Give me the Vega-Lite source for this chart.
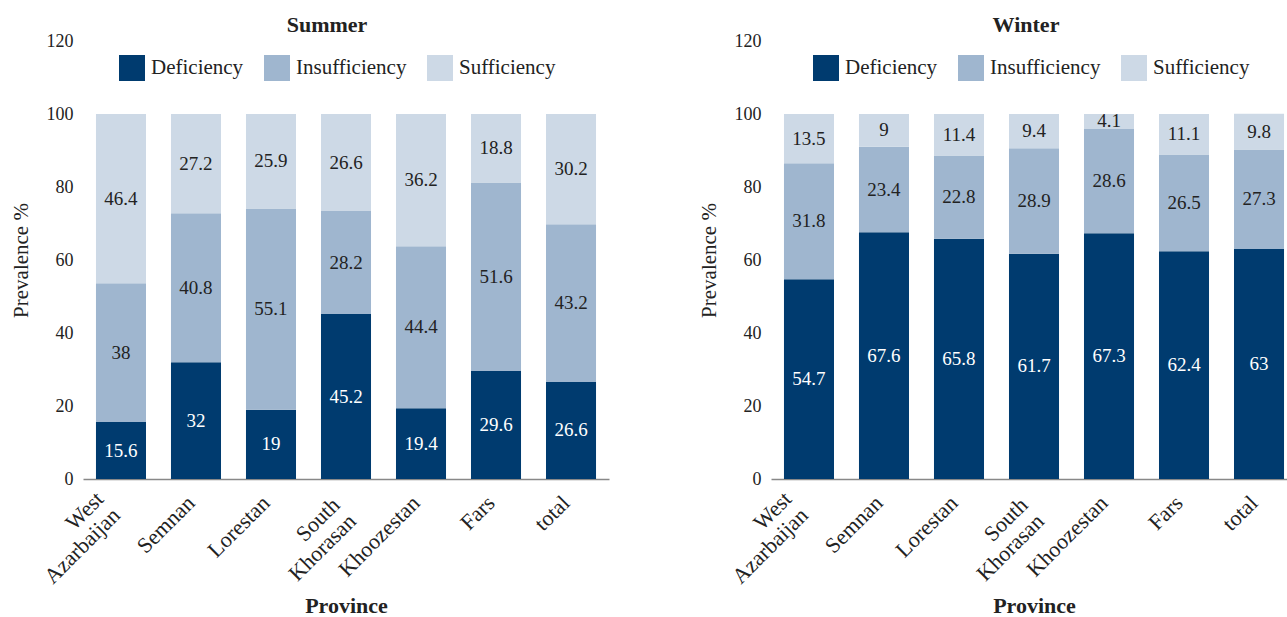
{
  "$schema": "https://vega.github.io/schema/vega-lite/v6.json",
  "padding": {"left": 10, "top": 14, "right": 0, "bottom": 0},
  "config": {"font": "Liberation Serif", "view": {"stroke": null}, "concat": {"spacing": 89}},
  "data": {"values": [
    {"season": "Summer", "province": "West Azarbaijan", "level": "Deficiency", "value": 15.6},
    {"season": "Summer", "province": "West Azarbaijan", "level": "Insufficiency", "value": 38},
    {"season": "Summer", "province": "West Azarbaijan", "level": "Sufficiency", "value": 46.4},
    {"season": "Summer", "province": "Semnan", "level": "Deficiency", "value": 32},
    {"season": "Summer", "province": "Semnan", "level": "Insufficiency", "value": 40.8},
    {"season": "Summer", "province": "Semnan", "level": "Sufficiency", "value": 27.2},
    {"season": "Summer", "province": "Lorestan", "level": "Deficiency", "value": 19},
    {"season": "Summer", "province": "Lorestan", "level": "Insufficiency", "value": 55.1},
    {"season": "Summer", "province": "Lorestan", "level": "Sufficiency", "value": 25.9},
    {"season": "Summer", "province": "South Khorasan", "level": "Deficiency", "value": 45.2},
    {"season": "Summer", "province": "South Khorasan", "level": "Insufficiency", "value": 28.2},
    {"season": "Summer", "province": "South Khorasan", "level": "Sufficiency", "value": 26.6},
    {"season": "Summer", "province": "Khoozestan", "level": "Deficiency", "value": 19.4},
    {"season": "Summer", "province": "Khoozestan", "level": "Insufficiency", "value": 44.4},
    {"season": "Summer", "province": "Khoozestan", "level": "Sufficiency", "value": 36.2},
    {"season": "Summer", "province": "Fars", "level": "Deficiency", "value": 29.6},
    {"season": "Summer", "province": "Fars", "level": "Insufficiency", "value": 51.6},
    {"season": "Summer", "province": "Fars", "level": "Sufficiency", "value": 18.8},
    {"season": "Summer", "province": "total", "level": "Deficiency", "value": 26.6},
    {"season": "Summer", "province": "total", "level": "Insufficiency", "value": 43.2},
    {"season": "Summer", "province": "total", "level": "Sufficiency", "value": 30.2},
    {"season": "Winter", "province": "West Azarbaijan", "level": "Deficiency", "value": 54.7},
    {"season": "Winter", "province": "West Azarbaijan", "level": "Insufficiency", "value": 31.8},
    {"season": "Winter", "province": "West Azarbaijan", "level": "Sufficiency", "value": 13.5},
    {"season": "Winter", "province": "Semnan", "level": "Deficiency", "value": 67.6},
    {"season": "Winter", "province": "Semnan", "level": "Insufficiency", "value": 23.4},
    {"season": "Winter", "province": "Semnan", "level": "Sufficiency", "value": 9},
    {"season": "Winter", "province": "Lorestan", "level": "Deficiency", "value": 65.8},
    {"season": "Winter", "province": "Lorestan", "level": "Insufficiency", "value": 22.8},
    {"season": "Winter", "province": "Lorestan", "level": "Sufficiency", "value": 11.4},
    {"season": "Winter", "province": "South Khorasan", "level": "Deficiency", "value": 61.7},
    {"season": "Winter", "province": "South Khorasan", "level": "Insufficiency", "value": 28.9},
    {"season": "Winter", "province": "South Khorasan", "level": "Sufficiency", "value": 9.4},
    {"season": "Winter", "province": "Khoozestan", "level": "Deficiency", "value": 67.3},
    {"season": "Winter", "province": "Khoozestan", "level": "Insufficiency", "value": 28.6},
    {"season": "Winter", "province": "Khoozestan", "level": "Sufficiency", "value": 4.1},
    {"season": "Winter", "province": "Fars", "level": "Deficiency", "value": 62.4},
    {"season": "Winter", "province": "Fars", "level": "Insufficiency", "value": 26.5},
    {"season": "Winter", "province": "Fars", "level": "Sufficiency", "value": 11.1},
    {"season": "Winter", "province": "total", "level": "Deficiency", "value": 63},
    {"season": "Winter", "province": "total", "level": "Insufficiency", "value": 27.3},
    {"season": "Winter", "province": "total", "level": "Sufficiency", "value": 9.8}
  ]},
  "resolve": {"legend": {"color": "independent"}},
  "hconcat": [
    {
      "title": {"text": "Summer", "fontSize": 22, "fontWeight": "bold", "color": "#222", "dx": -19, "offset": -5},
      "width": 526, "height": 438,
      "transform": [
        {"filter": "datum.season === 'Summer'"},
        {"stack": "value", "groupby": ["province"], "sort": [{"field": "level", "order": "ascending"}], "as": ["v0", "v1"]},
        {"calculate": "(datum.v0 + datum.v1) / 2", "as": "mid"}
      ],
      "encoding": {
        "x": {"field": "province", "type": "nominal",
          "sort": ["West Azarbaijan", "Semnan", "Lorestan", "South Khorasan", "Khoozestan", "Fars", "total"],
          "scale": {"paddingInner": 0.333, "paddingOuter": 0.173},
          "axis": {"title": "Province", "titleFontSize": 22, "titleFontWeight": "bold", "titleColor": "#222", "titlePadding": 8,
            "labelAngle": -45, "labelAlign": "right", "labelBaseline": "middle", "labelFontSize": 22, "labelColor": "#222",
            "labelExpr": "split(datum.label, ' ')", "labelLineHeight": 23,
            "labelPadding": {"condition": [{"test": "datum.value === 'West Azarbaijan'", "value": 16}, {"test": "datum.value === 'South Khorasan'", "value": 22}], "value": 20},
            "labelOffset": {"condition": [{"test": "datum.value === 'West Azarbaijan'", "value": -21}, {"test": "datum.value === 'South Khorasan'", "value": -10}], "value": -5},
            "ticks": false, "domainColor": "#888", "domainWidth": 1.5, "grid": false}}
      },
      "layer": [
        {"mark": {"type": "bar"},
          "encoding": {
            "y": {"field": "v0", "type": "quantitative", "scale": {"domain": [0, 120]},
              "axis": {"values": [0, 20, 40, 60, 80, 100, 120], "title": "Prevalence %", "titleFontSize": 21, "titleFontWeight": "normal", "titleColor": "#222",
                "labelFontSize": 18, "labelColor": "#222", "domain": false, "ticks": false, "grid": false, "labelPadding": 10, "titlePadding": 15}},
            "y2": {"field": "v1"},
            "color": {"field": "level", "type": "nominal",
              "scale": {"domain": ["Deficiency", "Insufficiency", "Sufficiency"], "range": ["#003b6f", "#9fb6cf", "#cdd9e6"]},
              "legend": {"orient": "none", "legendX": 36, "legendY": 14, "direction": "horizontal", "title": null, "symbolType": "square",
                "symbolSize": 676, "symbolStrokeWidth": 0, "labelFontSize": 21, "labelColor": "#222", "labelOffset": 6, "columnPadding": 20, "labelLimit": 300}}
          }},
        {"mark": {"type": "text", "fontSize": 19},
          "encoding": {
            "y": {"field": "mid", "type": "quantitative"},
            "text": {"field": "value", "type": "quantitative", "format": ".1~f"},
            "color": {"condition": {"test": "datum.level === 'Deficiency'", "value": "#ffffff"}, "value": "#222222"}
          }}
      ]
    },
    {
      "title": {"text": "Winter", "fontSize": 22, "fontWeight": "bold", "color": "#222", "dx": -8, "offset": -5},
      "width": 526, "height": 438,
      "transform": [
        {"filter": "datum.season === 'Winter'"},
        {"stack": "value", "groupby": ["province"], "sort": [{"field": "level", "order": "ascending"}], "as": ["v0", "v1"]},
        {"calculate": "(datum.v0 + datum.v1) / 2", "as": "mid"}
      ],
      "encoding": {
        "x": {"field": "province", "type": "nominal",
          "sort": ["West Azarbaijan", "Semnan", "Lorestan", "South Khorasan", "Khoozestan", "Fars", "total"],
          "scale": {"paddingInner": 0.333, "paddingOuter": 0.173},
          "axis": {"title": "Province", "titleFontSize": 22, "titleFontWeight": "bold", "titleColor": "#222", "titlePadding": 8,
            "labelAngle": -45, "labelAlign": "right", "labelBaseline": "middle", "labelFontSize": 22, "labelColor": "#222",
            "labelExpr": "split(datum.label, ' ')", "labelLineHeight": 23,
            "labelPadding": {"condition": [{"test": "datum.value === 'West Azarbaijan'", "value": 16}, {"test": "datum.value === 'South Khorasan'", "value": 22}], "value": 20},
            "labelOffset": {"condition": [{"test": "datum.value === 'West Azarbaijan'", "value": -21}, {"test": "datum.value === 'South Khorasan'", "value": -10}], "value": -5},
            "ticks": false, "domainColor": "#888", "domainWidth": 1.5, "grid": false}}
      },
      "layer": [
        {"mark": {"type": "bar"},
          "encoding": {
            "y": {"field": "v0", "type": "quantitative", "scale": {"domain": [0, 120]},
              "axis": {"values": [0, 20, 40, 60, 80, 100, 120], "title": "Prevalence %", "titleFontSize": 21, "titleFontWeight": "normal", "titleColor": "#222",
                "labelFontSize": 18, "labelColor": "#222", "domain": false, "ticks": false, "grid": false, "labelPadding": 10, "titlePadding": 15}},
            "y2": {"field": "v1"},
            "color": {"field": "level", "type": "nominal",
              "scale": {"domain": ["Deficiency", "Insufficiency", "Sufficiency"], "range": ["#003b6f", "#9fb6cf", "#cdd9e6"]},
              "legend": {"orient": "none", "legendX": 42, "legendY": 14, "direction": "horizontal", "title": null, "symbolType": "square",
                "symbolSize": 676, "symbolStrokeWidth": 0, "labelFontSize": 21, "labelColor": "#222", "labelOffset": 6, "columnPadding": 20, "labelLimit": 300}}
          }},
        {"mark": {"type": "text", "fontSize": 19},
          "encoding": {
            "y": {"field": "mid", "type": "quantitative"},
            "text": {"field": "value", "type": "quantitative", "format": ".1~f"},
            "color": {"condition": {"test": "datum.level === 'Deficiency'", "value": "#ffffff"}, "value": "#222222"}
          }}
      ]
    }
  ]
}
